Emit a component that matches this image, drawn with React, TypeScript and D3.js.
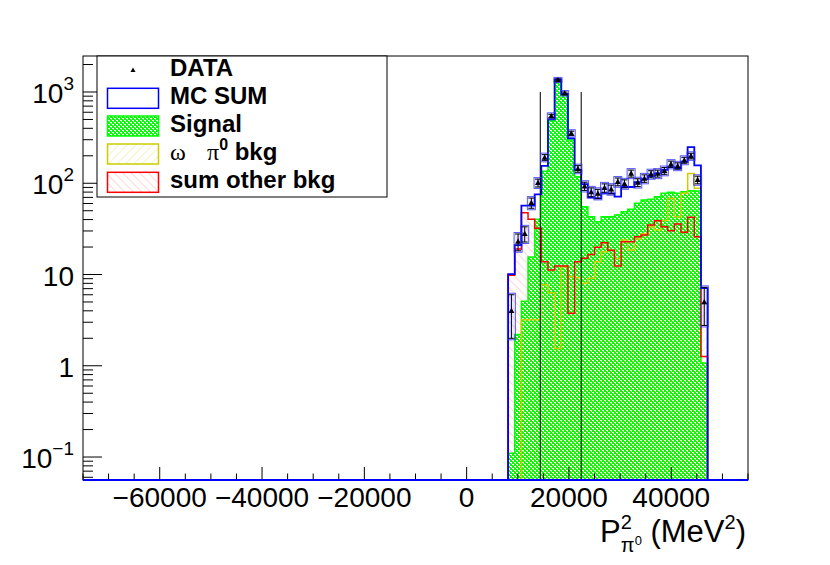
import * as d3 from 'd3';

// histogram binning (30 filled bins)
const firstEdge = 8100;
const binWidth = 1300;

// per-bin contents
const dataCounts = [4, 23, 28, 61, 101, 192, 546, 1354, 968, 353, 144, 93, 80, 77, 89, 86, 104, 99, 128, 102, 113, 126, 128, 137, 162, 155, 179, 199, 109, 5];
const mcSum = [10.1, 21, 56.8, 56.8, 75.7, 155, 502, 1378, 951, 311, 140, 98, 70.6, 68.4, 77.6, 77.6, 71.3, 91, 91, 103, 111, 120, 128, 140, 150, 146, 172, 249, 157, 7.1];
const signal = [0.11, 2.2, 5.1, 15.6, 40.3, 135, 485, 1350, 926, 298, 118, 55.3, 43, 37.9, 43, 43, 44.9, 48.8, 51.9, 60.3, 65.5, 66.7, 71.3, 77.6, 79.6, 77.6, 80.8, 82.8, 82.2, 1.07];
const omegaBkg = [0, 0, 3.2, 3.2, 3.2, 7.7, 6.3, 1.55, 12.2, 9.5, 9.3, 8.0, 9.1, 13.8, 17.8, 18.5, 15, 23.9, 18.6, 24.5, 28, 33.4, 31, 39, 68, 43, 77.6, 128, 88, 4.8];
const otherBkg = [9.8, 19, 47.5, 40.3, 32.1, 13.8, 11.2, 12.4, 12.4, 3.76, 13.8, 15.1, 16.6, 19.9, 22.3, 18.5, 12.4, 22.9, 22.9, 25.9, 27.1, 34.8, 38.9, 33.4, 30.2, 35.7, 29, 42.4, 25.9, 1.26];

// cut lines
const cuts = [14400, 22400];
const cutTop = 1000;

// axis ticks
const xMajor = [-60000, -40000, -20000, 0, 20000, 40000];
const yMajor = [0.1, 1, 10, 100, 1000];
const yLabels = [['10', '\u22121'], ['1', ''], ['10', ''], ['10', '2'], ['10', '3']];

const W = 830;
const H = 565;
const L = 83, R = 748, T = 56, B = 480;
const font = 'Liberation Sans, Arial, Helvetica, sans-serif';

const x = d3.scaleLinear().domain([-75000, 55000]).range([L, R]);
const y = d3.scaleLog().domain([0.056, 2480]).range([B, T]);
const yMin = 0.056;
const cl = (v: number) => Math.max(v, yMin);
const edge = (i: number) => x(firstEdge + i * binWidth);

function stepLine(vals: number[], full: boolean) {
  let d = full ? `M${L},${B}L${edge(0)},${B}` : `M${edge(0)},${B}`;
  vals.forEach((v, i) => {
    const yy = y(cl(v));
    d += `L${edge(i)},${yy}L${edge(i + 1)},${yy}`;
  });
  d += `L${edge(vals.length)},${B}`;
  if (full) d += `L${R},${B}`;
  return d;
}

function stepArea(vals: number[]) {
  return stepLine(vals, false) + 'Z';
}

function tri(cx: number, cy: number, s: number) {
  return `M${cx},${cy - s}L${cx + s},${cy + s * 0.75}L${cx - s},${cy + s * 0.75}Z`;
}

export default function App() {
  const xMinor = d3.range(-75000, 55001, 5000).filter((v) => !xMajor.includes(v));
  const yMinor: number[] = [];
  for (let e = -2; e <= 3; e++) {
    for (let k = 2; k <= 9; k++) {
      const v = k * Math.pow(10, e);
      if (v > yMin && v < 2480) yMinor.push(v);
    }
  }
  const rows = [76, 104.3, 132, 160, 188.3];

  return (
    <div>
      <style>{'body{margin:0;background:#fff}'}</style>
      <svg width={W} height={H} style={{ display: 'block' }}>
        <defs>
          <clipPath id="plot">
            <rect x={L} y={T} width={R - L} height={B - T} />
          </clipPath>
          <pattern id="dots" width={4} height={4} patternUnits="userSpaceOnUse">
            <rect width={4} height={4} fill="#00ff00" />
            <rect x={0} y={0} width={2} height={1} fill="#ffffff" />
            <rect x={2} y={2} width={2} height={1} fill="#ffffff" />
            <rect x={1} y={1} width={1} height={1} fill="#e6ffe6" />
            <rect x={3} y={3} width={1} height={1} fill="#e6ffe6" />
          </pattern>
          <pattern id="hatchY" width={6} height={6} patternUnits="userSpaceOnUse" patternTransform="rotate(45)">
            <line x1={0} y1={0} x2={0} y2={6} stroke="#cccc00" strokeWidth={1} opacity={0.45} />
          </pattern>
          <pattern id="hatchR" width={6} height={6} patternUnits="userSpaceOnUse" patternTransform="rotate(-45)">
            <line x1={0} y1={0} x2={0} y2={6} stroke="#ff3333" strokeWidth={1} opacity={0.4} />
          </pattern>
        </defs>
        <rect width={W} height={H} fill="#fff" />

        <g clipPath="url(#plot)">
          {/* signal */}
          <path d={stepArea(signal)} fill="url(#dots)" />
          <path d={stepLine(signal, false)} fill="none" stroke="#00ff00" strokeWidth={1.5} />
          {/* omega pi0 bkg */}
          <path d={stepArea(omegaBkg)} fill="url(#hatchY)" />
          {/* other bkg */}
          <path d={stepArea(otherBkg)} fill="url(#hatchR)" />
          <path d={stepLine(omegaBkg, false)} fill="none" stroke="#cccc00" strokeWidth={1.5} />
          <path d={stepLine(otherBkg, false)} fill="none" stroke="#ff0000" strokeWidth={1.5} />
          {/* MC sum */}
          <path d={stepLine(mcSum, true)} fill="none" stroke="#0000ff" strokeWidth={1.8} />
          {/* cut lines */}
          {cuts.map((c) => (
            <line key={c} x1={x(c)} x2={x(c)} y1={B} y2={y(cutTop)} stroke="#000" strokeWidth={1.2} opacity={0.85} />
          ))}
          {/* data */}
          {dataCounts.map((n, i) => {
            const cx = (edge(i) + edge(i + 1)) / 2;
            const err = Math.sqrt(n);
            const yc = y(cl(n));
            const yl = y(cl(n - err));
            const yh = y(n + err);
            return (
              <g key={i}>
                <rect x={cx - 4} y={yh - 1.5} width={8} height={yl - yh + 3} fill="rgba(0,0,255,0.1)" stroke="#3333ff" strokeWidth={1} opacity={0.8} />
                <line x1={cx} x2={cx} y1={yh} y2={yl} stroke="#000" strokeWidth={1} />
                <line x1={cx - 3} x2={cx + 3} y1={yh} y2={yh} stroke="#000" strokeWidth={1} />
                <line x1={cx - 3} x2={cx + 3} y1={yl} y2={yl} stroke="#000" strokeWidth={1} />
                <path d={tri(cx, yc, 3)} fill="#000" />
              </g>
            );
          })}
        </g>

        {/* frame */}
        <rect x={L} y={T} width={R - L} height={B - T} fill="none" stroke="#000" strokeWidth={1} />

        {/* x axis */}
        {xMajor.map((v) => (
          <line key={v} x1={x(v)} x2={x(v)} y1={B} y2={B - 13} stroke="#000" strokeWidth={1} />
        ))}
        {xMinor.map((v) => (
          <line key={v} x1={x(v)} x2={x(v)} y1={B} y2={B - 6.5} stroke="#000" strokeWidth={1} />
        ))}
        {xMajor.map((v) => (
          <text key={v} x={x(v)} y={507} textAnchor="middle" fontFamily={font} fontSize={28} fill="#000">
            {v < 0 ? '\u2212' + Math.abs(v) : String(v)}
          </text>
        ))}
        <line x1={L} x2={R} y1={B} y2={B} stroke="#0000ff" strokeWidth={1.8} />

        {/* y axis */}
        {yMajor.map((v) => (
          <line key={v} x1={L} x2={L + 19} y1={y(v)} y2={y(v)} stroke="#000" strokeWidth={1} />
        ))}
        {yMinor.map((v) => (
          <line key={v} x1={L} x2={L + 10} y1={y(v)} y2={y(v)} stroke="#000" strokeWidth={1} />
        ))}
        {yMajor.map((v, i) => (
          <text key={v} x={74} y={y(v) + 11} textAnchor="end" fontFamily={font} fontSize={28} fill="#000">
            <tspan>{yLabels[i][0]}</tspan>
            {yLabels[i][1] && (
              <tspan dy={-13} fontSize={19}>
                {yLabels[i][1]}
              </tspan>
            )}
          </text>
        ))}

        {/* axis title */}
        <text x={746} y={542} textAnchor="end" fontFamily={font} fontSize={31} fill="#000">
          <tspan>P</tspan>
          <tspan dy={-13} fontSize={20}>2</tspan>
          <tspan dx={-11} dy={23} fontSize={20}>π</tspan>
          <tspan dy={-7} fontSize={13}>0</tspan>
          <tspan dy={-3}> (MeV</tspan>
          <tspan dy={-13} fontSize={20}>2</tspan>
          <tspan dy={13}>)</tspan>
        </text>

        {/* legend */}
        <rect x={97} y={56} width={290} height={141} fill="#fff" stroke="#000" strokeWidth={1} />
        <path d={tri(133, rows[0] - 6, 2.5)} fill="#000" />
        <rect x={107.5} y={rows[1] - 16} width={51} height={20} fill="#fff" stroke="#0000ff" strokeWidth={1.5} />
        <rect x={107.5} y={rows[2] - 16} width={51} height={20} fill="url(#dots)" stroke="#00ff00" strokeWidth={1.5} />
        <rect x={107.5} y={rows[3] - 16} width={51} height={20} fill="url(#hatchY)" stroke="#cccc00" strokeWidth={1.5} />
        <rect x={107.5} y={rows[4] - 16} width={51} height={20} fill="url(#hatchR)" stroke="#ff0000" strokeWidth={1.5} />
        <g fontFamily={font} fontSize={24} fontWeight="bold" fill="#000">
          <text x={170} y={rows[0]}>DATA</text>
          <text x={170} y={rows[1]}>MC SUM</text>
          <text x={170} y={rows[2]}>Signal</text>
          <text x={170} y={rows[3]}>
            <tspan fontFamily="Liberation Serif, serif" fontWeight="normal">ω</tspan>
            <tspan x={207} fontFamily="Liberation Serif, serif" fontWeight="normal">π</tspan>
            <tspan dy={-10} fontSize={16}>0</tspan>
            <tspan dy={10}> bkg</tspan>
          </text>
          <text x={170} y={rows[4]}>sum other bkg</text>
        </g>
      </svg>
    </div>
  );
}
